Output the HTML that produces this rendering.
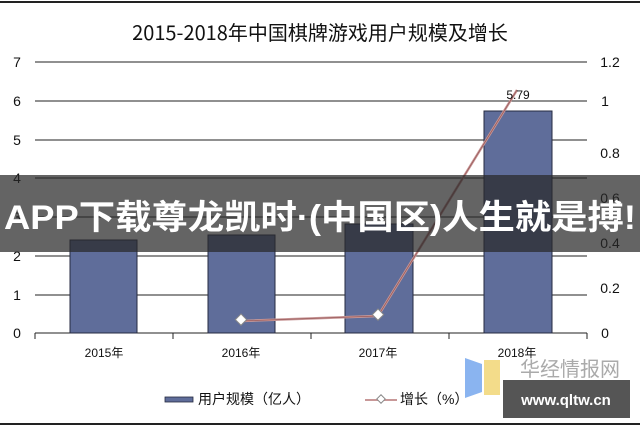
<!DOCTYPE html>
<html><head><meta charset="utf-8"><style>
html,body{margin:0;padding:0;background:#fff;}
body{width:640px;height:427px;overflow:hidden;position:relative;font-family:"Liberation Sans","Noto Sans CJK SC",sans-serif;}
</style></head><body>
<svg width="640" height="427" viewBox="0 0 640 427" xmlns="http://www.w3.org/2000/svg" style="position:absolute;left:0;top:0">
<rect x="0" y="0" width="640" height="427" fill="#fff"/>
<line x1="0" y1="2" x2="640" y2="2" stroke="#222" stroke-width="2"/>
<line x1="0" y1="424" x2="640" y2="424" stroke="#222" stroke-width="2"/>
<text x="320" y="40" font-family="'Noto Sans CJK SC',sans-serif" font-size="20" text-anchor="middle" fill="#111">2015-2018年中国棋牌游戏用户规模及增长</text>
<g stroke="#222" stroke-width="1">
<line x1="35" y1="62" x2="587" y2="62"/>
<line x1="35" y1="101" x2="587" y2="101"/>
<line x1="35" y1="140" x2="587" y2="140"/>
<line x1="35" y1="178" x2="587" y2="178"/>
<line x1="35" y1="217" x2="587" y2="217"/>
<line x1="35" y1="256" x2="587" y2="256"/>
<line x1="35" y1="295" x2="587" y2="295"/>
<line x1="35" y1="333" x2="587" y2="333"/>
<line x1="35" y1="333" x2="35" y2="339"/>
<line x1="173" y1="333" x2="173" y2="339"/>
<line x1="311" y1="333" x2="311" y2="339"/>
<line x1="449" y1="333" x2="449" y2="339"/>
<line x1="587" y1="333" x2="587" y2="339"/>
</g>
<g font-size="14" fill="#111" text-anchor="middle">
<text x="17" y="67">7</text><text x="17" y="106">6</text><text x="17" y="145">5</text><text x="17" y="183">4</text><text x="17" y="222">3</text><text x="17" y="261">2</text><text x="17" y="300">1</text><text x="17" y="338">0</text>
<text x="610" y="67">1.2</text><text x="605" y="106">1</text><text x="610" y="158">0.8</text><text x="610" y="203">0.6</text><text x="610" y="248">0.4</text><text x="610" y="293">0.2</text><text x="605" y="338">0</text>
</g>
<g fill="#5f6d9a" stroke="#252a40" stroke-width="1">
<rect x="70" y="240" width="67" height="93"/>
<rect x="208" y="235" width="67" height="98"/>
<rect x="345" y="224" width="68" height="109"/>
<rect x="484" y="111" width="68" height="222"/>
</g>
<polyline points="241,321 378,316 517,90" fill="none" stroke="#c89898" stroke-width="2.5"/>
<polyline points="241,321 378,316 517,90" fill="none" stroke="#9a5a5a" stroke-width="0.8"/>
<rect x="236" y="316" width="8" height="8" transform="rotate(45 241 321)" fill="#fff" stroke="#888"/>
<rect x="373" y="311" width="8" height="8" transform="rotate(45 378 316)" fill="#fff" stroke="#888"/>
<text x="518" y="99" font-size="12" text-anchor="middle" fill="#111">5.79</text>
<g font-size="12" fill="#111" text-anchor="middle">
<text x="104" y="357">2015年</text><text x="241" y="357">2016年</text><text x="378" y="357">2017年</text><text x="517" y="357">2018年</text>
</g>
<rect x="165" y="397" width="28" height="5" fill="#5f6d9a" stroke="#252a40" stroke-width="0.8"/>
<text x="198" y="404" font-size="14" fill="#111">用户规模（亿人）</text>
<line x1="365" y1="400" x2="397" y2="400" stroke="#c89898" stroke-width="2"/>
<rect x="378" y="396" width="6" height="6" transform="rotate(45 381 399)" fill="#fff" stroke="#888"/>
<text x="400" y="404" font-size="14" fill="#111">增长（%）</text>
<polygon points="465,358 482,364 482,392 465,398" fill="#8ab4f0"/>
<polygon points="484,360 500,360 500,395 484,395" fill="#f3dc8a"/>
<text x="520" y="376" font-size="20" fill="#aaa">华经情报网</text>
<rect x="503" y="380" width="127" height="38" fill="#555"/>
<text x="566" y="405" font-size="15" font-weight="bold" fill="#fff" text-anchor="middle">www.qltw.cn</text>
<rect x="0" y="175" width="640" height="77" fill="rgba(40,40,40,0.72)"/>
<text x="320" y="229" font-size="34" font-weight="bold" fill="#fff" text-anchor="middle" textLength="632" lengthAdjust="spacingAndGlyphs">APP下载尊龙凯时·(中国区)人生就是搏!</text>
</svg>
</body></html>
